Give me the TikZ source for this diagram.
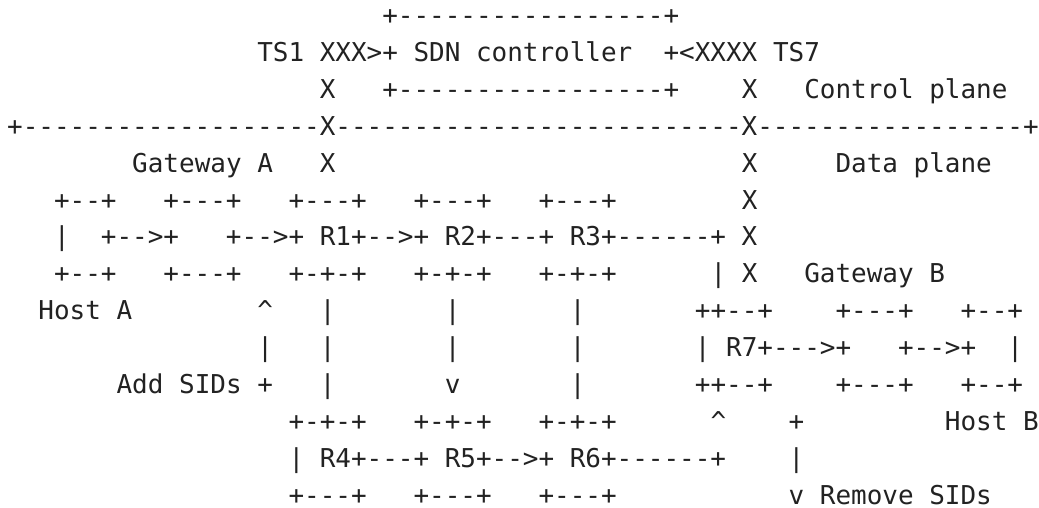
\documentclass[tikz,border=0pt]{standalone}
\usepackage{fontspec}
\setmonofont{DejaVu Sans Mono}
\definecolor{ink}{RGB}{34,34,34}
\begin{document}
\begin{tikzpicture}[x=0.5pt,y=-0.5pt,
  row/.style={anchor=base west,inner sep=0pt,outer sep=0pt,text=ink,
    font=\ttfamily\fontsize{12.98pt}{18.45pt}\selectfont\frenchspacing}]
\fill[white] (0,0) rectangle (1039,508);
\useasboundingbox (0,0) rectangle (1039,508);
\node[row] (l1)  at (382.32,24.5)  {+-----------------+};
\node[row] (l2)  at (257.28,61.4)  {TS1~XXX>+~SDN~controller~~+<XXXX~TS7};
\node[row] (l3)  at (319.8,98.3)   {X~~~+-----------------+~~~~X~~~Control~plane};
\node[row] (l4)  at (7.2,135.2)    {+-------------------X--------------------------X-----------------+};
\node[row] (l5)  at (132.24,172.1) {Gateway~A~~~X~~~~~~~~~~~~~~~~~~~~~~~~~~X~~~~~Data~plane};
\node[row] (l6)  at (54.09,209.0)  {+--+~~~+---+~~~+---+~~~+---+~~~+---+~~~~~~~~X};
\node[row] (l7)  at (54.09,245.9)  {|~~+-->+~~~+-->+~R1+-->+~R2+---+~R3+------+~X};
\node[row] (l8)  at (54.09,282.8)  {+--+~~~+---+~~~+-+-+~~~+-+-+~~~+-+-+~~~~~~|~X~~~Gateway~B};
\node[row] (l9)  at (38.46,319.7)  {Host~A~~~~~~~~\textasciicircum~~~|~~~~~~~|~~~~~~~|~~~~~~~++--+~~~~+---+~~~+--+};
\node[row] (l10) at (257.28,356.6) {|~~~|~~~~~~~|~~~~~~~|~~~~~~~|~R7+--->+~~~+-->+~~|};
\node[row] (l11) at (116.61,393.5) {Add~SIDs~+~~~|~~~~~~~v~~~~~~~|~~~~~~~++--+~~~~+---+~~~+--+};
\node[row] (l12) at (288.54,430.4) {+-+-+~~~+-+-+~~~+-+-+~~~~~~\textasciicircum~~~~+~~~~~~~~~Host~B};
\node[row] (l13) at (288.54,467.3) {|~R4+---+~R5+-->+~R6+------+~~~~|};
\node[row] (l14) at (288.54,504.2) {+---+~~~+---+~~~+---+~~~~~~~~~~~v~Remove~SIDs};
\end{tikzpicture}
\end{document}
